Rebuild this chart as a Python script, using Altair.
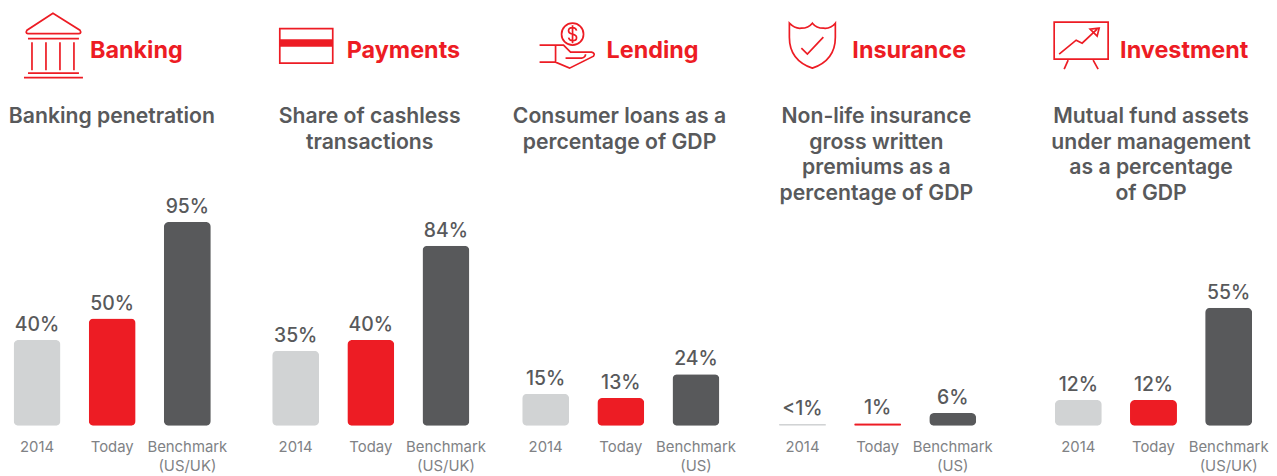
import altair as alt
import pandas as pd

headers = ["Banking", "Payments", "Lending", "Insurance", "Investment"]
subtitles = [
    "Banking penetration",
    "Share of cashless\ntransactions",
    "Consumer loans as a\npercentage of GDP",
    "Non-life insurance\ngross written\npremiums as a\npercentage of GDP",
    "Mutual fund assets\nunder management\nas a percentage\nof GDP",
]
stages = ["2014", "Today", "Benchmark"]
benchmarks = ["(US/UK)", "(US/UK)", "(US)", "(US)", "(US/UK)"]
values = [
    [40, 50, 95],
    [35, 40, 84],
    [15, 13, 24],
    [0.9, 1.2, 6],
    [12, 12, 55],
]
value_labels = [
    ["40%", "50%", "95%"],
    ["35%", "40%", "84%"],
    ["15%", "13%", "24%"],
    ["<1%", "1%", "6%"],
    ["12%", "12%", "55%"],
]

RED, LIGHT, DARK, MUTED = "#ED1C24", "#D1D3D4", "#58595B", "#808285"
FONT = "Inter"
PANEL_H = 418
PANEL_L = [0, 235, 490, 745, 1000]
PANEL_W = [235, 255, 255, 255, 260]
BAND_START = [-8.5, 15.3, 10.5, 12.5, 33.6]
SUB_X = [104, 362, 612, 869, 1144]
HEAD_X = [82, 339, 599, 845, 1113]

ICONS = [
    "M53 13 L27 30 Q25 33 28 33.5 L79 33.5 Q82 33 80 30 Z M28 38.5 H79 M32 42 V70 M46 42 V70 M60 42 V70 "
    "M74 42 V70 M28 73 H79 M24 77.5 H83",
    "M280 28.5 H333 V63 H280 Z",
    "M584 34 A11 11 0 1 1 562 34 A11 11 0 1 1 584 34 Z "
    "M577 30.5 C576.5 28.5 575 27.5 573 27.5 C570.5 27.5 569 29 569 30.5 C569 33 571 33.5 573 34 "
    "C575 34.5 577 35.5 577 37.5 C577 39.5 575 40.5 573 40.5 C571 40.5 569.5 39.5 569 37.5 M573 25 V43 "
    "M540 45 H564 L571 52 H592 Q596 53 594 56 L570 68 L556 62 H540 M556 45 V62 M566 58 H582 Q586 57 586 54",
    "M790 23 Q796 29 802 28 Q809 28 813 23 Q817 28 824 28 Q831 29 836 23 V37 Q836 60 813 68 Q790 60 790 37 Z "
    "M802 48 L808 54 L824 37",
    "M1055 22 H1109 V59 H1055 Z M1069 60 L1065 69 M1094 60 L1099 69 M1060 54 L1077 40 L1083 43 L1098 29 "
    "M1100 28 L1091 29 L1098 36 Z",
]
STRIPE = "M280 39 H333 V46.5 H280 Z"


def panel(i):
    df = pd.DataFrame({
        "stage": stages,
        "cat": ["2014", "Today", "Benchmark\n" + benchmarks[i]],
        "value": values[i],
        "label": value_labels[i],
    })
    x = alt.X(
        "cat:N",
        sort=df["cat"].tolist(),
        scale=alt.Scale(domain=df["cat"].tolist(), range=[BAND_START[i], BAND_START[i] + 225.6],
                        paddingInner=0.375, paddingOuter=0.1875),
        axis=alt.Axis(title=None, ticks=False, domain=False, labelAngle=0, labelFont=FONT,
                      labelFontSize=14.9, labelColor=MUTED, labelPadding=14, labelLineHeight=18.5,
                      labelOverlap=False, labelBound=False, labelFlush=False, grid=False,
                      labelExpr="split(datum.label, '\\n')"),
    )
    y = alt.Y("value:Q", scale=alt.Scale(domain=[0, PANEL_H / 2.147], nice=False), axis=None)
    base = alt.Chart(df)
    bars = base.mark_bar(cornerRadius=5).encode(
        x=x, y=y,
        color=alt.Color("stage:N", scale=alt.Scale(domain=stages, range=[LIGHT, RED, DARK]), legend=None),
    )
    nums = base.mark_text(font=FONT, fontSize=19.4, fontWeight=500, color=DARK, baseline="alphabetic",
                          align="center", dy=-9).encode(x=x, y=y, text="label:N")
    one = alt.Chart(pd.DataFrame({"head": [headers[i]], "sub": [subtitles[i]]}))
    head = one.mark_text(font=FONT, fontSize=23.4, fontWeight=700, color=RED, align="left",
                         baseline="alphabetic").encode(
        x=alt.value(HEAD_X[i] - PANEL_L[i]), y=alt.value(49.5), text="head:N")
    sub = one.mark_text(font=FONT, fontSize=21.2, fontWeight=600, color=DARK, align="center",
                        baseline="alphabetic", lineHeight=25.5, lineBreak="\n").encode(
        x=alt.value(SUB_X[i] - PANEL_L[i]), y=alt.value(115), text="sub:N")
    ox, oy = alt.value(-8 - PANEL_L[i]), alt.value(-8)
    icon = one.mark_point(shape=ICONS[i], size=4, filled=False, stroke=RED, strokeWidth=1.7,
                          opacity=1).encode(x=ox, y=oy)
    layers = [bars, nums, head, sub, icon]
    if i == 1:
        layers.append(one.mark_point(shape=STRIPE, size=4, filled=True, fill=RED, stroke=RED,
                                     strokeWidth=0, opacity=1).encode(x=ox, y=oy))
    return alt.layer(*layers).properties(width=PANEL_W[i], height=PANEL_H)


chart = alt.hconcat(*[panel(i) for i in range(5)], spacing=0, bounds="flush").properties(
    padding=0
).configure_view(stroke=None).configure_concat(spacing=0)

chart.save("out.html", embed_options={"renderer": "svg", "actions": False})
